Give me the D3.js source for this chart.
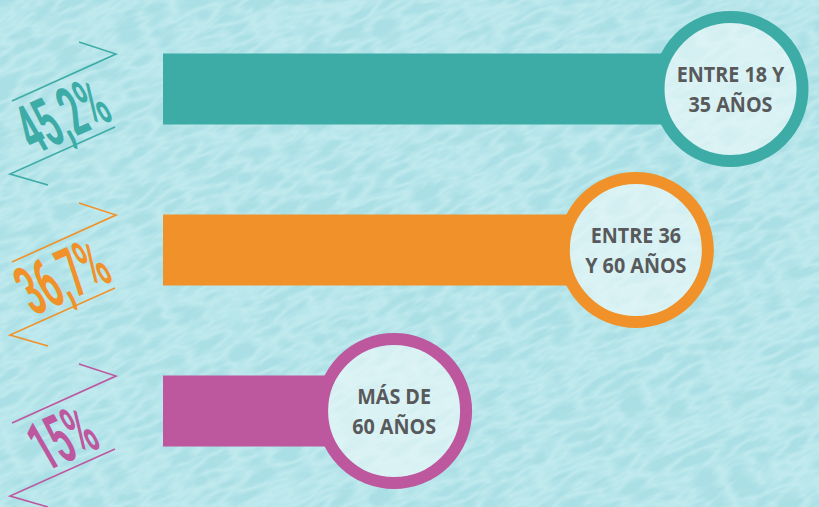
<!DOCTYPE html>
<html>
<head>
<meta charset="utf-8">
<script src="https://cdn.jsdelivr.net/npm/d3@7"></script>
<style>
  html, body { margin: 0; padding: 0; background: #a9dfe5; }
  svg { display: block; }
</style>
</head>
<body>
<svg id="svg-chart"></svg>
<script>
const width = 819;
const height = 507;

// data
const rows = [0, 1, 2];
const values = [45.2, 36.7, 15];
const valueLabels = ["45,2%", "36,7%", "15%"];
const ageLines = [
  ["ENTRE 18 Y", "35 AÑOS"],
  ["ENTRE 36", "Y 60 AÑOS"],
  ["MÁS DE", "60 AÑOS"],
];
const colors = ["#3eaca6", "#f09229", "#bd579e"];

const svg = d3.select("#svg-chart").attr("width", width).attr("height", height);

// background water texture
const defs = svg.append("defs");
const filter = defs.append("filter").attr("id", "water")
  .attr("x", 0).attr("y", 0).attr("width", "100%").attr("height", "100%");
filter.append("feTurbulence")
  .attr("type", "turbulence")
  .attr("baseFrequency", "0.03 0.09")
  .attr("numOctaves", 2)
  .attr("seed", 4);
filter.append("feColorMatrix")
  .attr("type", "matrix")
  .attr("values", "0 0 0 0 0.78  0 0 0 0 0.96  0 0 0 0 0.97  0 0 0 -1.4 0.7");

svg.append("rect").attr("width", width).attr("height", height).attr("fill", "#a9dfe5");
svg.append("g")
  .attr("transform", "rotate(-25 " + width / 2 + " " + height / 2 + ")")
  .append("rect")
  .attr("x", -200).attr("y", -250)
  .attr("width", width + 400).attr("height", height + 500)
  .attr("filter", "url(#water)")
  .attr("opacity", 0.6);

const xScale = d3.scaleLinear().domain([0, 50]).range([227, 784]);
const yScale = d3.scalePoint().domain(rows).range([89, 411]);

const barLeft = 163;
const barHeight = 71;
const outerR = 78;
const innerR = 66;

// bars
svg.selectAll("rect.bar")
  .data(rows)
  .join("rect")
  .attr("class", "bar")
  .attr("x", barLeft)
  .attr("y", d => yScale(d) - barHeight / 2)
  .attr("width", d => xScale(values[d]) - innerR - 1 - barLeft)
  .attr("height", barHeight)
  .attr("fill", d => colors[d]);

// end circles
svg.selectAll("circle.end")
  .data(rows)
  .join("circle")
  .attr("class", "end")
  .attr("cx", d => xScale(values[d]))
  .attr("cy", d => yScale(d))
  .attr("r", (outerR + innerR) / 2)
  .attr("fill", "rgba(240,250,250,0.6)")
  .attr("stroke", d => colors[d])
  .attr("stroke-width", outerR - innerR);

// circle labels
const labels = svg.selectAll("g.age")
  .data(rows)
  .join("g")
  .attr("class", "age")
  .attr("transform", d => "translate(" + xScale(values[d]) + "," + yScale(d) + ") scale(0.94,1)");

labels.selectAll("text")
  .data(d => ageLines[d].map((t, i) => ({ t: t, i: i })))
  .join("text")
  .attr("x", 0)
  .attr("y", d => (d.i === 0 ? -15 : 15))
  .attr("dy", "0.36em")
  .attr("text-anchor", "middle")
  .attr("font-family", "'Open Sans', sans-serif")
  .attr("font-weight", "bold")
  .attr("font-size", 21)
  .attr("fill", "#58595b")
  .text(d => d.t);

// percentage ribbons on the left
const tags = svg.selectAll("g.tag")
  .data(rows)
  .join("g")
  .attr("class", "tag")
  .attr("transform", d => "translate(0," + (yScale(d) + 25) + ")");

const chevron = d3.line();
tags.append("path")
  .attr("d", chevron([[12, -13], [116, -60], [79, -72]]))
  .attr("fill", "none")
  .attr("stroke", d => colors[d])
  .attr("stroke-width", 1.6);
tags.append("path")
  .attr("d", chevron([[115, 13], [10, 60], [48, 71]]))
  .attr("fill", "none")
  .attr("stroke", d => colors[d])
  .attr("stroke-width", 1.6);

tags.append("text")
  .attr("transform", "translate(62,1) rotate(-24) skewX(6) scale(0.47,1)")
  .attr("text-anchor", "middle")
  .attr("dy", "0.36em")
  .attr("font-family", "Roboto, sans-serif")
  .attr("font-weight", "bold")
  .attr("font-size", 70)
  .attr("fill", d => colors[d])
  .text(d => valueLabels[d]);
</script>
</body>
</html>
